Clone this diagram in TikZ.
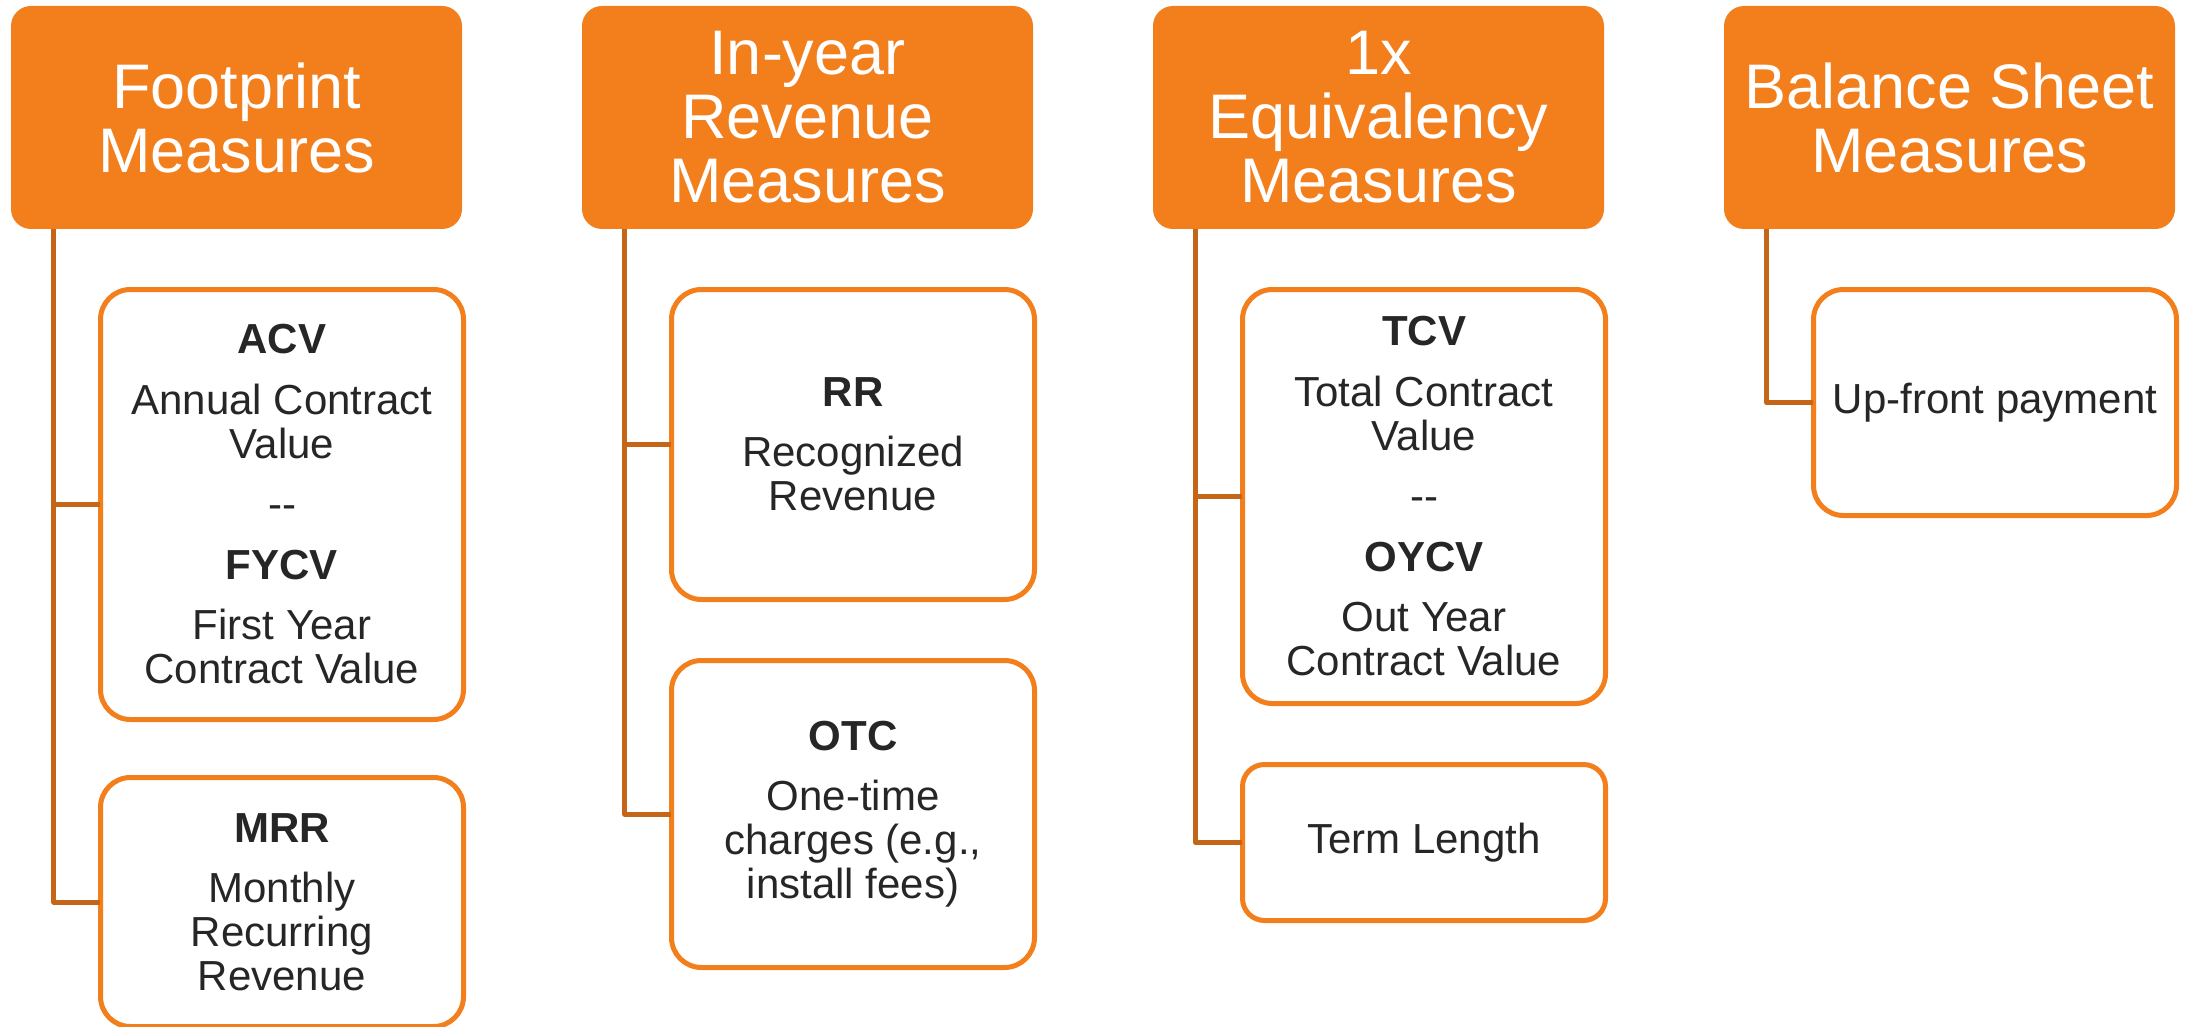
\documentclass[tikz,border=0pt]{standalone}
\usepackage{fontspec}
\setmainfont{Liberation Sans}
\definecolor{orng}{RGB}{242,126,28}
\definecolor{conncol}{RGB}{197,101,24}
\definecolor{txt}{RGB}{38,38,38}
\begin{document}
\begin{tikzpicture}[x=1pt,y=-1pt,
  header/.style={fill=orng,draw=none,rounded corners=20pt,minimum width=451pt,minimum height=223pt,
    text=white,align=center,inner sep=0pt,font=\fontsize{63}{64}\selectfont},
  child/.style={draw=orng,line width=5pt,fill=white,rounded corners=30pt,minimum width=363pt,
    text=txt,align=center,inner sep=0pt,font=\fontsize{42}{44}\selectfont},
  conn/.style={draw=conncol,line width=5pt,line join=round}]
\useasboundingbox (0,0) rectangle (2193,1027);
% headers
\node[header] (h1) at (236.5,117.5) {Footprint\\Measures};
\node[header] (h2) at (807.5,117.5) {In-year\\Revenue\\Measures};
\node[header] (h3) at (1378.5,117.5) {1x\\Equivalency\\Measures};
\node[header] (h4) at (1949.5,117.5) {Balance Sheet\\Measures};
% children
\node[child,minimum height=430pt] (acv) at (282,504.5)
  {\textbf{ACV}\\[16.5pt]Annual Contract\\Value\\[16.5pt]-{}-\\[16.5pt]\textbf{FYCV}\\[16.5pt]First Year\\Contract Value};
\node[child,minimum height=249pt] (mrr) at (282,902)
  {\textbf{MRR}\\[16.5pt]Monthly\\Recurring\\Revenue};
\node[child,minimum height=310pt] (rr) at (853,444.5)
  {\textbf{RR}\\[16.5pt]Recognized\\Revenue};
\node[child,minimum height=307pt] (otc) at (853,814)
  {\textbf{OTC}\\[16.5pt]One-time\\charges (e.g.,\\install fees)};
\node[child,minimum height=414pt] (tcv) at (1424,496.5)
  {\textbf{TCV}\\[16.5pt]Total Contract\\Value\\[16.5pt]-{}-\\[16.5pt]\textbf{OYCV}\\[16.5pt]Out Year\\Contract Value};
\node[child,minimum height=156pt,rounded corners=22pt] (term) at (1424,842.5) {Term Length};
\node[child,minimum height=226pt] (up) at (1995,402.5) {Up-front payment};
% connector spines
\coordinate (v1) at ([xshift=43pt]h1.south west);
\coordinate (v2) at ([xshift=43pt]h2.south west);
\coordinate (v3) at ([xshift=43pt]h3.south west);
\coordinate (v4) at ([xshift=43pt]h4.south west);
\draw[conn] (v1) |- ([xshift=2pt]mrr.west);
\draw[conn] (acv.west -| v1) -- ([xshift=2pt]acv.west);
\draw[conn] (v2) |- ([xshift=2pt]otc.west);
\draw[conn] (rr.west -| v2) -- ([xshift=2pt]rr.west);
\draw[conn] (v3) |- ([xshift=2pt]term.west);
\draw[conn] (tcv.west -| v3) -- ([xshift=2pt]tcv.west);
\draw[conn] (v4) |- ([xshift=2pt]up.west);
\end{tikzpicture}
\end{document}
